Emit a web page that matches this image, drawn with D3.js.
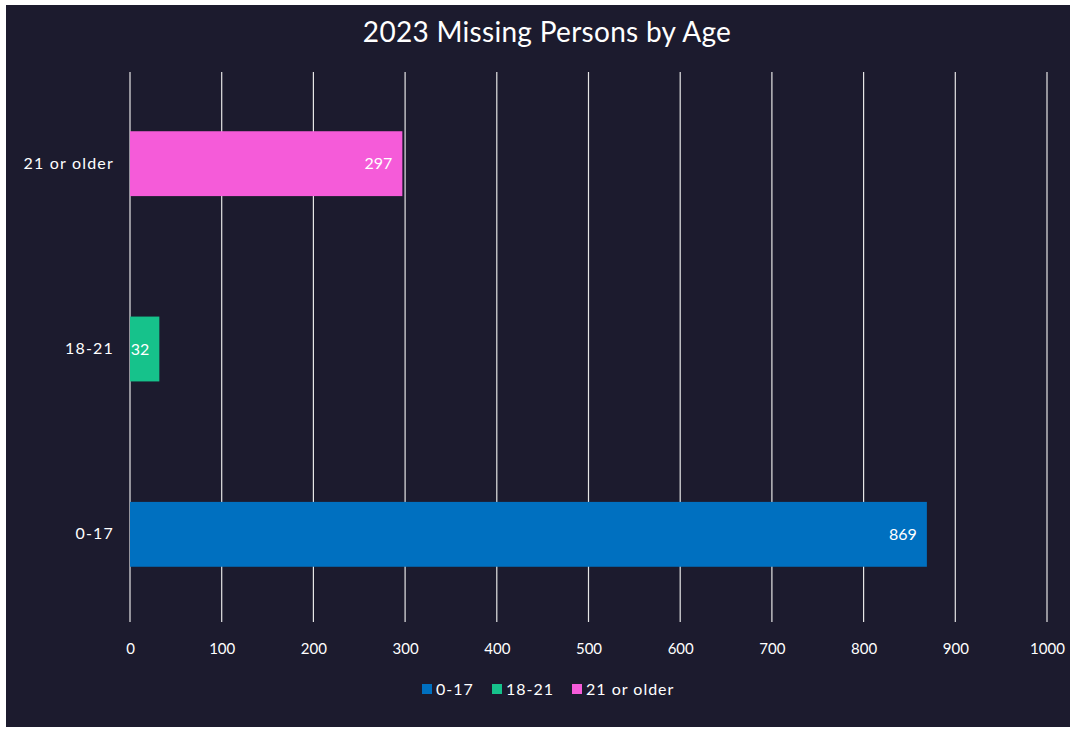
<!DOCTYPE html>
<html>
<head>
<meta charset="utf-8">
<script src="https://cdn.jsdelivr.net/npm/d3@7"></script>
<style>
  body { margin: 0; background: #ffffff; }
  svg { display: block; font-family: "Lato", "Noto Sans", sans-serif; }
</style>
</head>
<body>
<svg></svg>
<script>
// chart data
const categories = ["21 or older", "18-21", "0-17"];
const values = [297, 32, 869];
const colors = ["#f55bd9", "#16c28b", "#0070c0"];
const legendOrder = ["0-17", "18-21", "21 or older"];
const xTicks = [0, 100, 200, 300, 400, 500, 600, 700, 800, 900, 1000];

const width = 1072, height = 732;

const svg = d3.select("svg")
  .attr("width", width)
  .attr("height", height);

// dark panel with thin white frame
svg.append("rect")
  .attr("x", 6).attr("y", 5)
  .attr("width", 1064).attr("height", 722)
  .attr("fill", "#1c1b2e");

const x = d3.scaleLinear()
  .domain([0, 1000])
  .range([130, 1047]);

const y = d3.scaleBand()
  .domain(categories)
  .range([71, 627])
  .paddingInner(0.65)
  .paddingOuter(0.325);

const color = d3.scaleOrdinal()
  .domain(categories)
  .range(colors);

// title
svg.append("text")
  .attr("x", 547)
  .attr("y", 42)
  .attr("text-anchor", "middle")
  .attr("fill", "#ffffff")
  .attr("font-size", 28)
  .style("letter-spacing", "0.3px")
  .text("2023 Missing Persons by Age");

// vertical gridlines
svg.append("g")
  .selectAll("line")
  .data(xTicks)
  .join("line")
    .attr("x1", d => x(d)).attr("x2", d => x(d))
    .attr("y1", 72).attr("y2", 622)
    .attr("stroke", "#e6e6e6")
    .attr("stroke-width", 1.2);

// x axis labels
const xAxis = svg.append("g")
  .attr("transform", "translate(0,622)")
  .call(d3.axisBottom(x).tickValues(xTicks).tickSize(0).tickPadding(21).tickFormat(d3.format("d")));
xAxis.select(".domain").remove();
xAxis.selectAll("text")
  .attr("fill", "#ffffff")
  .attr("font-size", 15)
  .style("font-family", "Lato, 'Noto Sans', sans-serif");

// y axis labels
const yAxis = svg.append("g")
  .attr("transform", "translate(114,0)")
  .call(d3.axisLeft(y).tickSize(0).tickPadding(0));
yAxis.select(".domain").remove();
yAxis.selectAll("text")
  .attr("fill", "#ffffff")
  .attr("font-size", 16)
  .style("letter-spacing", "1.2px")
  .style("font-family", "Lato, 'Noto Sans', sans-serif");

// bars
svg.append("g")
  .selectAll("rect")
  .data(categories)
  .join("rect")
    .attr("x", x(0))
    .attr("y", d => y(d))
    .attr("width", (d, i) => x(values[i]) - x(0))
    .attr("height", y.bandwidth())
    .attr("fill", d => color(d));

// value labels inside bar ends
svg.append("g")
  .selectAll("text")
  .data(categories)
  .join("text")
    .attr("x", (d, i) => x(values[i]) - 10)
    .attr("y", d => y(d) + y.bandwidth() / 2)
    .attr("dy", ".35em")
    .attr("text-anchor", "end")
    .attr("fill", "#ffffff")
    .attr("font-size", 16)
    .text((d, i) => values[i]);

// legend
const legendX = [422, 492, 572];
const legend = svg.append("g")
  .selectAll("g")
  .data(legendOrder)
  .join("g")
    .attr("transform", (d, i) => `translate(${legendX[i]},689)`);
legend.append("rect")
  .attr("x", 0).attr("y", -5)
  .attr("width", 10).attr("height", 10)
  .attr("fill", d => color(d));
legend.append("text")
  .attr("x", 14)
  .attr("dy", ".35em")
  .attr("fill", "#ffffff")
  .attr("font-size", 16)
  .style("letter-spacing", "1px")
  .text(d => d);
</script>
</body>
</html>
